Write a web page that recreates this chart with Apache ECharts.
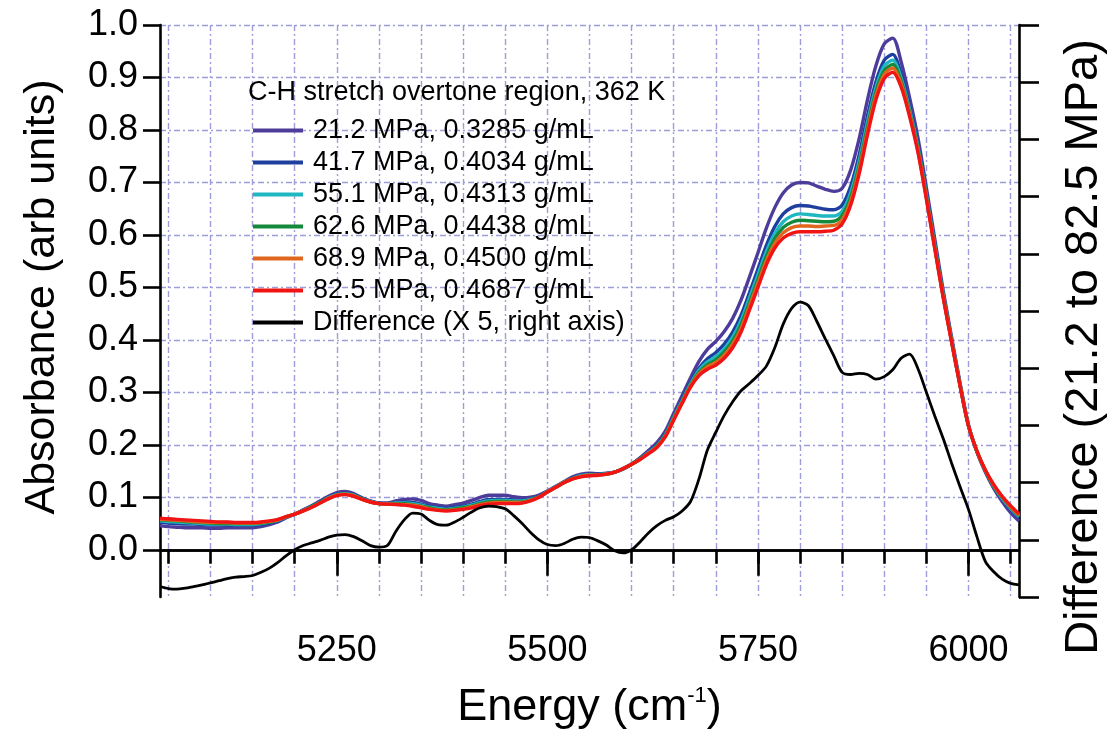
<!DOCTYPE html>
<html>
<head>
<meta charset="utf-8">
<script src="https://cdn.jsdelivr.net/npm/echarts@6/dist/echarts.min.js"></script>
<style>
  html, body { margin: 0; padding: 0; background: #fff; }
  #chart { width: 1116px; height: 740px; }
</style>
</head>
<body>
<div id="chart"></div>
<script>
// energy grid (cm-1)
const energy = [
  5040, 5050, 5060, 5070, 5080, 5090, 5100, 5110, 5120, 5130,
  5140, 5150, 5160, 5170, 5180, 5190, 5200, 5210, 5220, 5230,
  5240, 5250, 5260, 5270, 5280, 5290, 5300, 5310, 5320, 5330,
  5340, 5350, 5360, 5370, 5380, 5390, 5400, 5410, 5420, 5430,
  5440, 5450, 5460, 5470, 5480, 5490, 5500, 5510, 5520, 5530,
  5540, 5550, 5560, 5570, 5580, 5590, 5600, 5610, 5620, 5630,
  5640, 5650, 5660, 5670, 5680, 5690, 5700, 5710, 5720, 5730,
  5740, 5750, 5760, 5770, 5780, 5790, 5800, 5810, 5820, 5830,
  5840, 5850, 5860, 5870, 5880, 5890, 5900, 5910, 5920, 5930,
  5940, 5950, 5960, 5970, 5980, 5990, 6000, 6010, 6020, 6030,
  6040, 6050, 6060
];

const abs212 = [
  .046, .044, .043, .042, .042, .042, .041, .041, .042, .042,
  .042, .042, .044, .048, .053, .061, .068, .076, .084, .093,
  .102, .109, .111, .107, .099, .093, .089, .089, .093, .096,
  .097, .094, .088, .085, .083, .086, .089, .094, .100, .104,
  .104, .104, .101, .099, .100, .104, .112, .121, .130, .139,
  .144, .146, .145, .146, .148, .154, .163, .175, .189, .204,
  .226, .260, .294, .328, .359, .382, .397, .416, .441, .476,
  .520, .566, .613, .652, .680, .695, .700, .699, .693, .687,
  .683, .689, .723, .782, .857, .922, .964, .975, .930, .862,
  .785, .690, .592, .494, .405, .318, .238, .187, .148, .117,
  .092, .071, .055
];

const abs417 = [
  .053, .051, .050, .049, .049, .048, .047, .047, .047, .047,
  .047, .047, .048, .051, .055, .062, .068, .075, .083, .091,
  .100, .106, .108, .105, .098, .092, .089, .088, .090, .091,
  .090, .087, .083, .080, .079, .081, .083, .087, .092, .096,
  .096, .096, .095, .094, .097, .102, .111, .120, .129, .137,
  .142, .144, .144, .145, .148, .154, .163, .174, .186, .200,
  .221, .254, .287, .320, .346, .364, .376, .392, .415, .447,
  .490, .535, .580, .616, .640, .652, .656, .655, .652, .649,
  .648, .657, .692, .751, .826, .891, .933, .944, .907, .845,
  .772, .680, .583, .487, .400, .315, .237, .187, .150, .120,
  .097, .077, .061
];

const abs551 = [
  .055, .054, .053, .052, .051, .050, .049, .049, .049, .048,
  .048, .048, .050, .053, .056, .062, .068, .075, .082, .090,
  .099, .105, .107, .104, .097, .092, .088, .088, .089, .089,
  .088, .085, .081, .079, .077, .079, .081, .085, .090, .093,
  .094, .094, .093, .093, .096, .101, .111, .120, .129, .136,
  .141, .143, .143, .145, .148, .155, .163, .173, .185, .198,
  .219, .252, .284, .316, .342, .358, .368, .383, .405, .437,
  .480, .524, .568, .603, .625, .636, .640, .639, .637, .636,
  .636, .645, .680, .739, .814, .880, .922, .933, .899, .839,
  .767, .676, .580, .485, .399, .314, .237, .188, .151, .121,
  .098, .079, .063
];

const abs626 = [
  .057, .056, .055, .054, .053, .052, .051, .050, .050, .050,
  .050, .050, .051, .053, .057, .063, .068, .074, .082, .090,
  .098, .104, .106, .103, .097, .091, .088, .087, .088, .088,
  .086, .083, .080, .077, .076, .078, .080, .083, .088, .091,
  .092, .092, .091, .091, .095, .101, .110, .119, .128, .136,
  .140, .142, .143, .144, .148, .155, .163, .173, .184, .197,
  .218, .250, .282, .314, .338, .353, .362, .377, .398, .429,
  .471, .515, .559, .593, .614, .624, .628, .627, .626, .625,
  .626, .637, .671, .730, .805, .872, .913, .925, .893, .834,
  .763, .673, .577, .483, .397, .313, .236, .188, .151, .122,
  .100, .081, .065
];

const abs689 = [
  .058, .057, .056, .055, .054, .053, .052, .052, .052, .051,
  .051, .051, .052, .054, .057, .063, .068, .074, .081, .089,
  .098, .104, .106, .103, .096, .091, .088, .087, .087, .086,
  .085, .082, .078, .076, .075, .076, .078, .082, .086, .089,
  .090, .090, .090, .090, .094, .100, .110, .119, .128, .135,
  .140, .142, .142, .144, .148, .155, .163, .172, .184, .196,
  .216, .249, .281, .312, .335, .349, .357, .371, .392, .422,
  .465, .508, .551, .584, .604, .614, .617, .617, .616, .617,
  .618, .629, .664, .723, .798, .865, .906, .918, .888, .830,
  .760, .671, .575, .482, .396, .313, .236, .188, .152, .123,
  .101, .082, .066
];

const abs825 = [
  .060, .059, .058, .057, .056, .055, .054, .053, .053, .052,
  .052, .052, .053, .055, .058, .063, .068, .074, .081, .089,
  .097, .103, .105, .102, .096, .091, .088, .087, .086, .085,
  .083, .080, .077, .075, .074, .075, .077, .080, .084, .087,
  .088, .088, .088, .089, .093, .100, .110, .119, .128, .135,
  .139, .141, .142, .144, .148, .155, .163, .172, .183, .195,
  .215, .247, .279, .310, .332, .344, .352, .365, .385, .415,
  .457, .500, .543, .575, .594, .603, .606, .606, .606, .607,
  .609, .621, .656, .715, .790, .857, .898, .910, .882, .826,
  .757, .668, .573, .480, .395, .312, .236, .188, .152, .124,
  .102, .084, .068
];

// difference 21.2 - 82.5 MPa, x5 (right axis)
const diffX5 = [
  -.070, -.074, -.075, -.073, -.070, -.067, -.063, -.059, -.055, -.052,
  -.051, -.049, -.043, -.035, -.024, -.011, .000, .008, .013, .018,
  .024, .028, .029, .025, .017, .008, .005, .008, .035, .057,
  .070, .068, .056, .048, .047, .053, .062, .072, .080, .083,
  .082, .078, .065, .050, .033, .019, .010, .008, .012, .020,
  .024, .023, .017, .009, -.002, -.006, .000, .015, .032, .046,
  .056, .063, .074, .092, .135, .190, .224, .256, .282, .303,
  .317, .332, .350, .385, .430, .460, .472, .465, .435, .402,
  .370, .338, .334, .336, .334, .325, .330, .343, .365, .373,
  .345, .300, .255, .212, .165, .120, .077, .025, -.022, -.042,
  -.056, -.064, -.067
];

const seriesNames = [
  "21.2 MPa, 0.3285 g/mL",
  "41.7 MPa, 0.4034 g/mL",
  "55.1 MPa, 0.4313 g/mL",
  "62.6 MPa, 0.4438 g/mL",
  "68.9 MPa, 0.4500 g/mL",
  "82.5 MPa, 0.4687 g/mL",
];
const diffName = "Difference (X 5, right axis)";
const colors = ["#4e3c9b", "#1f3f9f", "#1fb7c2", "#14893c", "#e0661e", "#f01414"];

const xMajorTicks = [5250, 5500, 5750, 6000];
const xMinorTicks = [
  5050, 5100, 5150, 5200, 5250, 5300, 5350, 5400, 5450, 5500, 5550,
  5600, 5650, 5700, 5750, 5800, 5850, 5900, 5950, 6000, 6050
];
const yTicks = [0, 0.1, 0.2, 0.3, 0.4, 0.5, 0.6, 0.7, 0.8, 0.9, 1.0];

const font = "'Liberation Sans', Arial, Helvetica, sans-serif";
const gridLine = { color: "#9d9dd9", width: 1.4, type: [6, 3, 2, 3] };

const chart = echarts.init(document.getElementById("chart"));

const absSets = [abs212, abs417, abs551, abs626, abs689, abs825];
const series = absSets.map((vals, k) => ({
  name: seriesNames[k],
  type: "line",
  xAxisIndex: 0,
  yAxisIndex: 0,
  data: energy.map((e, i) => [e, vals[i]]),
  showSymbol: false,
  smooth: 0.3,
  lineStyle: { width: 3.4, color: colors[k] },
  itemStyle: { color: colors[k] },
  z: 3 + k,
}));
series.push({
  name: diffName,
  type: "line",
  xAxisIndex: 0,
  yAxisIndex: 1,
  data: energy.map((e, i) => [e, diffX5[i]]),
  showSymbol: false,
  smooth: 0.3,
  lineStyle: { width: 2.8, color: "#000" },
  itemStyle: { color: "#000" },
  z: 10,
  markLine: {
    silent: true,
    symbol: "none",
    label: { show: false },
    lineStyle: { color: "#000", width: 2.6, type: "solid" },
    data: [{ yAxis: 0 }],
  },
});

const options = {
  animation: false,
  backgroundColor: "#fff",
  textStyle: { fontFamily: font },
  title: {
    text: "C-H stretch overtone region, 362 K",
    left: 248,
    top: 79,
    padding: 0,
    textStyle: { fontFamily: font, fontSize: 27, fontWeight: "normal", color: "#000" },
  },
  legend: {
    orient: "vertical",
    left: 253,
    top: 117,
    padding: 0,
    itemGap: 5,
    itemWidth: 50,
    itemHeight: 4,
    icon: "rect",
    data: [...seriesNames, diffName],
    textStyle: {
      fontFamily: font,
      fontSize: 27,
      color: "#000",
      lineHeight: 27,
      padding: [0, 0, 0, 5],
    },
  },
  grid: { left: 160, right: 95, top: 25, bottom: 143 },
  xAxis: [
    {
      type: "value",
      min: 5040,
      max: 6060,
      position: "bottom",
      axisLine: { lineStyle: { color: "#000", width: 2.6 } },
      axisTick: { customValues: xMinorTicks, length: 14, lineStyle: { color: "#000", width: 2.6 } },
      axisLabel: {
        customValues: xMajorTicks,
        formatter: (v) => String(v),
        margin: 36,
        fontSize: 36,
        color: "#000",
        fontFamily: font,
      },
      splitLine: { show: true, lineStyle: gridLine },
      name: "Energy (cm{sup|-1})",
      nameLocation: "middle",
      nameGap: 88,
      nameTextStyle: {
        fontSize: 45,
        color: "#000",
        fontFamily: font,
        rich: { sup: { fontSize: 22, verticalAlign: "top", color: "#000", fontFamily: font } },
      },
    },
    {
      type: "value",
      min: 5040,
      max: 6060,
      position: "bottom",
      axisLine: { show: false },
      axisTick: { customValues: xMajorTicks, length: 26, lineStyle: { color: "#000", width: 2.6 } },
      axisLabel: { show: false },
      splitLine: { show: false },
    },
  ],
  yAxis: [
    {
      type: "value",
      min: -0.09,
      max: 1.0,
      position: "left",
      axisLine: { show: true, lineStyle: { color: "#000", width: 2.6 } },
      axisTick: { show: true, customValues: yTicks, length: 17, lineStyle: { color: "#000", width: 2.6 } },
      axisLabel: {
        customValues: yTicks,
        formatter: (v) => v.toFixed(1),
        margin: 22,
        fontSize: 36,
        color: "#000",
        fontFamily: font,
      },
      splitLine: { show: true, lineStyle: gridLine },
      name: "Absorbance (arb units)",
      nameLocation: "middle",
      nameRotate: 90,
      nameGap: 96,
      nameTextStyle: { fontSize: 43, color: "#000", fontFamily: font, padding: [0, 0, 0, 28] },
    },
    {
      type: "value",
      min: -0.09,
      max: 1.0,
      interval: 0.109,
      position: "right",
      axisLine: { show: true, lineStyle: { color: "#000", width: 2.6 } },
      axisTick: { show: true, length: 20, lineStyle: { color: "#000", width: 2.6 } },
      axisLabel: { show: false },
      splitLine: { show: false },
      name: "Difference (21.2 to 82.5 MPa)",
      nameLocation: "middle",
      nameRotate: 90,
      nameGap: 42,
      nameTextStyle: { fontSize: 47, color: "#000", fontFamily: font, padding: [0, 72, 0, 0] },
    },
  ],
  series: series,
};

chart.setOption(options);
</script>
</body>
</html>
